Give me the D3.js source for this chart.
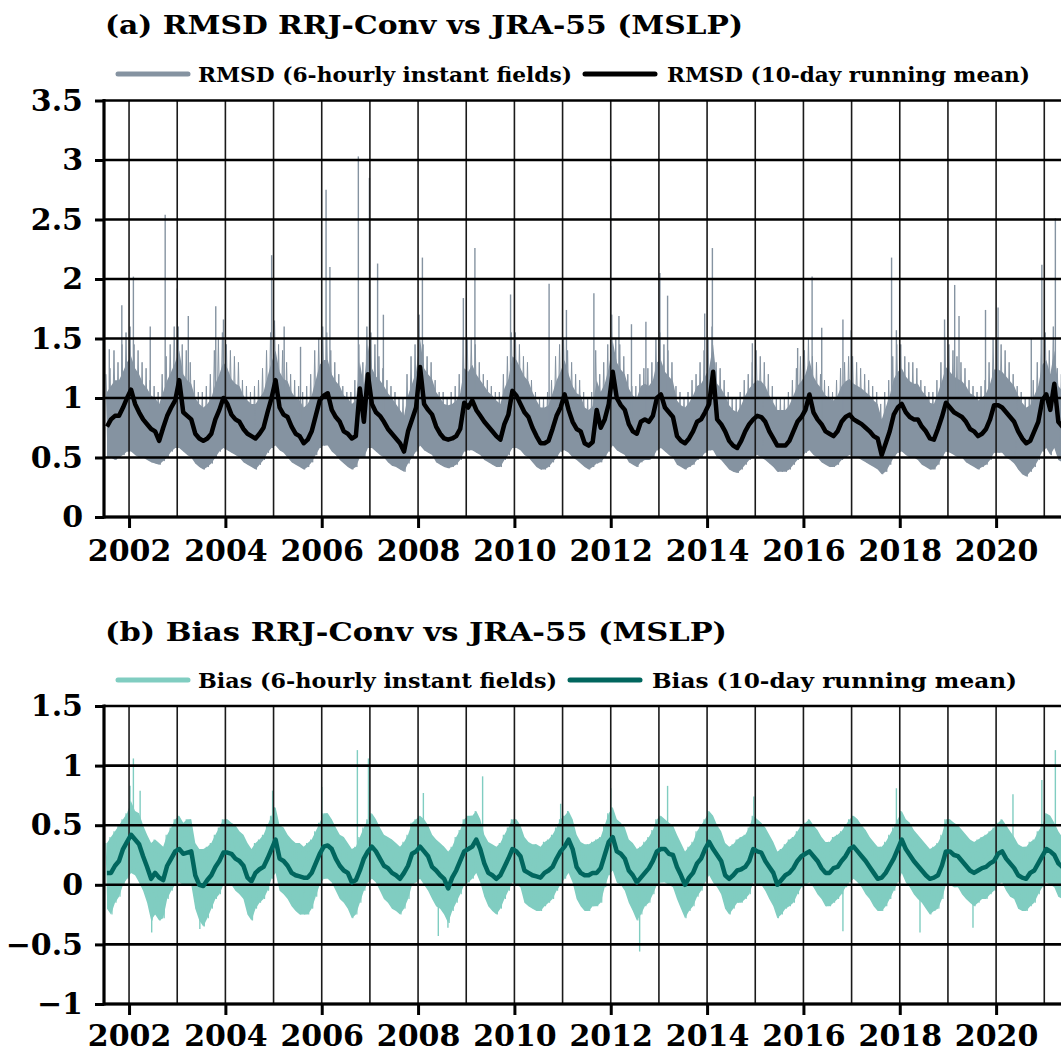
<!DOCTYPE html>
<html lang="en">
<head>
<meta charset="utf-8">
<script src="https://d3js.org/d3.v7.min.js"></script>
<style>
	body { margin:0; overflow:hidden; background:#fff; }
	text { font-family:"DejaVu Serif", serif; font-weight:bold; }
</style>
</head>
<body>
<script>

//Monthly values, first month = Jul 2001 (one row per year)
var startYear = 2001.5;

//(a) RMSD, 10-day running mean
var rmsdMean = [
	0.76, 0.82, 0.85, 0.85, 0.92, 1.00,
	1.07, 0.95, 0.88, 0.82, 0.78, 0.74, 0.72, 0.64, 0.75, 0.85, 0.92, 0.98,
	1.15, 0.88, 0.85, 0.82, 0.70, 0.66, 0.64, 0.66, 0.70, 0.82, 0.90, 1.00,
	0.95, 0.86, 0.82, 0.80, 0.74, 0.70, 0.68, 0.66, 0.70, 0.75, 0.88, 1.00,
	1.15, 0.92, 0.86, 0.84, 0.76, 0.70, 0.68, 0.62, 0.65, 0.72, 0.85, 0.98,
	1.02, 1.04, 0.90, 0.84, 0.80, 0.72, 0.70, 0.66, 0.68, 1.08, 0.80, 1.20,
	0.95, 0.88, 0.85, 0.80, 0.74, 0.70, 0.66, 0.62, 0.55, 0.72, 0.82, 0.92,
	1.26, 0.95, 0.90, 0.86, 0.76, 0.70, 0.66, 0.65, 0.66, 0.68, 0.74, 0.96,
	0.92, 0.98, 0.90, 0.85, 0.80, 0.76, 0.72, 0.68, 0.65, 0.78, 0.86, 1.06,
	1.02, 0.95, 0.88, 0.84, 0.75, 0.68, 0.62, 0.62, 0.64, 0.74, 0.85, 0.92,
	1.03, 0.90, 0.80, 0.74, 0.72, 0.62, 0.60, 0.63, 0.90, 0.75, 0.82, 0.95,
	1.22, 1.00, 0.94, 0.90, 0.78, 0.72, 0.70, 0.80, 0.82, 0.80, 0.85, 1.00,
	1.03, 0.92, 0.88, 0.84, 0.68, 0.64, 0.62, 0.66, 0.72, 0.80, 0.82, 0.88,
	0.95, 1.22, 0.82, 0.78, 0.72, 0.64, 0.60, 0.58, 0.64, 0.72, 0.78, 0.82,
	0.85, 0.84, 0.80, 0.72, 0.66, 0.60, 0.60, 0.60, 0.64, 0.72, 0.80, 0.84,
	0.90, 1.03, 0.88, 0.82, 0.78, 0.72, 0.70, 0.68, 0.72, 0.80, 0.84, 0.86,
	0.82, 0.80, 0.78, 0.75, 0.72, 0.68, 0.66, 0.52, 0.62, 0.72, 0.86, 0.92,
	0.95, 0.88, 0.84, 0.82, 0.82, 0.76, 0.72, 0.66, 0.65, 0.74, 0.84, 0.96,
	0.92, 0.88, 0.86, 0.84, 0.80, 0.74, 0.72, 0.68, 0.70, 0.74, 0.82, 0.94,
	0.94, 0.92, 0.88, 0.84, 0.80, 0.72, 0.66, 0.62, 0.64, 0.72, 0.80, 0.98,
	1.03, 0.90, 1.12, 0.80, 0.76, 0.72, 0.74, 0.70, 0.72
];

//(a) RMSD, 6-hourly fields: monthly top of the dense part of the band
var rmsdCore = [
	1.05, 1.10, 1.15, 1.15, 1.22, 1.30,
	1.35, 1.25, 1.20, 1.12, 1.08, 1.02, 1.00, 0.95, 1.05, 1.15, 1.22, 1.30,
	1.40, 1.20, 1.15, 1.12, 1.00, 0.95, 0.92, 0.95, 1.00, 1.12, 1.20, 1.30,
	1.25, 1.16, 1.12, 1.10, 1.02, 0.98, 0.95, 0.95, 1.00, 1.05, 1.18, 1.30,
	1.40, 1.22, 1.16, 1.14, 1.05, 1.00, 0.98, 0.92, 0.95, 1.02, 1.15, 1.28,
	1.32, 1.32, 1.20, 1.14, 1.10, 1.02, 1.00, 0.95, 0.98, 1.30, 1.10, 1.45,
	1.25, 1.18, 1.15, 1.10, 1.04, 1.00, 0.95, 0.90, 0.85, 1.02, 1.12, 1.22,
	1.50, 1.25, 1.20, 1.16, 1.05, 1.00, 0.95, 0.94, 0.95, 0.98, 1.04, 1.25,
	1.22, 1.28, 1.20, 1.15, 1.10, 1.05, 1.02, 0.98, 0.95, 1.08, 1.16, 1.35,
	1.32, 1.25, 1.18, 1.14, 1.05, 0.98, 0.92, 0.92, 0.94, 1.04, 1.15, 1.22,
	1.32, 1.20, 1.10, 1.04, 1.02, 0.92, 0.90, 0.93, 1.15, 1.05, 1.12, 1.25,
	1.48, 1.30, 1.24, 1.20, 1.08, 1.02, 1.00, 1.10, 1.12, 1.10, 1.15, 1.30,
	1.32, 1.22, 1.18, 1.14, 0.98, 0.94, 0.92, 0.96, 1.02, 1.10, 1.12, 1.18,
	1.25, 1.45, 1.12, 1.08, 1.02, 0.94, 0.90, 0.88, 0.94, 1.02, 1.08, 1.12,
	1.15, 1.14, 1.10, 1.02, 0.96, 0.90, 0.90, 0.90, 0.94, 1.02, 1.10, 1.14,
	1.20, 1.32, 1.18, 1.12, 1.08, 1.02, 1.00, 0.98, 1.02, 1.10, 1.14, 1.16,
	1.12, 1.10, 1.08, 1.05, 1.02, 0.98, 0.95, 0.82, 0.92, 1.02, 1.16, 1.22,
	1.25, 1.18, 1.14, 1.12, 1.12, 1.06, 1.02, 0.96, 0.95, 1.04, 1.14, 1.26,
	1.22, 1.18, 1.16, 1.14, 1.10, 1.04, 1.02, 0.98, 1.00, 1.04, 1.12, 1.24,
	1.24, 1.22, 1.18, 1.14, 1.10, 1.02, 0.96, 0.92, 0.94, 1.02, 1.10, 1.28,
	1.32, 1.20, 1.40, 1.10, 1.06, 1.02, 1.04, 1.00, 1.02
];

//(a) RMSD, 6-hourly fields: monthly upper and lower edge of the band
var rmsdHi = [
	1.20, 1.25, 1.40, 1.30, 1.45, 1.55,
	1.60, 1.45, 1.40, 1.30, 1.25, 1.15, 1.10, 1.05, 1.20, 1.35, 1.45, 1.60,
	1.60, 1.45, 1.40, 1.30, 1.15, 1.05, 1.05, 1.10, 1.20, 1.40, 1.50, 1.55,
	1.45, 1.40, 1.35, 1.30, 1.15, 1.10, 1.05, 1.10, 1.15, 1.25, 1.40, 1.55,
	1.65, 1.45, 1.40, 1.30, 1.20, 1.15, 1.10, 1.05, 1.10, 1.20, 1.40, 1.50,
	1.60, 1.55, 1.40, 1.30, 1.20, 1.10, 1.05, 1.05, 1.15, 1.45, 1.30, 1.60,
	1.55, 1.45, 1.35, 1.25, 1.15, 1.10, 1.05, 1.00, 1.00, 1.20, 1.35, 1.45,
	1.70, 1.45, 1.35, 1.30, 1.15, 1.05, 1.05, 1.00, 1.05, 1.10, 1.20, 1.50,
	1.50, 1.50, 1.45, 1.30, 1.20, 1.15, 1.10, 1.05, 1.05, 1.20, 1.35, 1.55,
	1.55, 1.45, 1.35, 1.30, 1.15, 1.05, 1.00, 1.00, 1.05, 1.15, 1.35, 1.45,
	1.50, 1.40, 1.30, 1.20, 1.15, 1.05, 1.00, 1.05, 1.40, 1.20, 1.30, 1.45,
	1.70, 1.50, 1.45, 1.35, 1.20, 1.10, 1.10, 1.20, 1.25, 1.25, 1.30, 1.50,
	1.55, 1.45, 1.40, 1.30, 1.10, 1.05, 1.00, 1.05, 1.15, 1.20, 1.30, 1.40,
	1.50, 1.60, 1.30, 1.25, 1.15, 1.05, 1.00, 1.00, 1.05, 1.15, 1.20, 1.30,
	1.40, 1.35, 1.30, 1.20, 1.10, 1.00, 1.00, 1.00, 1.05, 1.15, 1.25, 1.35,
	1.40, 1.50, 1.35, 1.30, 1.20, 1.15, 1.10, 1.05, 1.15, 1.25, 1.30, 1.35,
	1.35, 1.30, 1.25, 1.20, 1.15, 1.10, 1.05, 0.95, 1.05, 1.15, 1.35, 1.45,
	1.45, 1.35, 1.30, 1.30, 1.25, 1.15, 1.10, 1.05, 1.05, 1.15, 1.30, 1.50,
	1.45, 1.40, 1.35, 1.30, 1.25, 1.15, 1.10, 1.05, 1.10, 1.15, 1.30, 1.50,
	1.50, 1.45, 1.40, 1.30, 1.20, 1.10, 1.05, 1.00, 1.00, 1.15, 1.30, 1.50,
	1.55, 1.40, 1.60, 1.25, 1.20, 1.15, 1.15, 1.10, 1.10
];
var rmsdLo = [
	0.50, 0.50, 0.48, 0.50, 0.52, 0.55,
	0.55, 0.52, 0.50, 0.50, 0.48, 0.46, 0.45, 0.44, 0.47, 0.50, 0.55, 0.58,
	0.58, 0.55, 0.52, 0.50, 0.45, 0.42, 0.40, 0.42, 0.45, 0.50, 0.55, 0.58,
	0.56, 0.54, 0.52, 0.50, 0.46, 0.44, 0.42, 0.40, 0.44, 0.48, 0.54, 0.58,
	0.60, 0.56, 0.54, 0.50, 0.46, 0.44, 0.42, 0.40, 0.42, 0.46, 0.52, 0.58,
	0.60, 0.60, 0.55, 0.52, 0.48, 0.45, 0.42, 0.40, 0.42, 0.50, 0.50, 0.58,
	0.58, 0.55, 0.52, 0.50, 0.46, 0.43, 0.42, 0.40, 0.38, 0.45, 0.50, 0.55,
	0.60, 0.56, 0.54, 0.52, 0.46, 0.44, 0.42, 0.41, 0.42, 0.44, 0.48, 0.55,
	0.56, 0.56, 0.54, 0.52, 0.48, 0.46, 0.44, 0.42, 0.42, 0.48, 0.52, 0.58,
	0.58, 0.56, 0.52, 0.50, 0.46, 0.42, 0.40, 0.40, 0.42, 0.46, 0.50, 0.55,
	0.56, 0.54, 0.50, 0.48, 0.45, 0.42, 0.40, 0.42, 0.45, 0.46, 0.50, 0.55,
	0.60, 0.56, 0.54, 0.52, 0.46, 0.44, 0.42, 0.46, 0.48, 0.48, 0.50, 0.56,
	0.58, 0.55, 0.52, 0.50, 0.44, 0.42, 0.40, 0.42, 0.44, 0.48, 0.50, 0.54,
	0.56, 0.56, 0.50, 0.48, 0.44, 0.40, 0.38, 0.37, 0.40, 0.44, 0.48, 0.50,
	0.52, 0.50, 0.48, 0.45, 0.42, 0.38, 0.38, 0.38, 0.40, 0.44, 0.48, 0.50,
	0.54, 0.56, 0.52, 0.50, 0.46, 0.44, 0.42, 0.42, 0.44, 0.48, 0.50, 0.52,
	0.50, 0.50, 0.48, 0.46, 0.44, 0.42, 0.40, 0.36, 0.38, 0.44, 0.50, 0.54,
	0.55, 0.52, 0.50, 0.50, 0.48, 0.44, 0.42, 0.40, 0.40, 0.44, 0.50, 0.55,
	0.54, 0.52, 0.50, 0.50, 0.46, 0.44, 0.42, 0.40, 0.42, 0.44, 0.48, 0.54,
	0.54, 0.54, 0.50, 0.48, 0.45, 0.40, 0.36, 0.34, 0.38, 0.42, 0.48, 0.55,
	0.58, 0.52, 0.58, 0.48, 0.46, 0.44, 0.44, 0.42, 0.42
];

//(a) single 6-hourly peaks: [decimal year, value]
var rmsdSpikes = [
	[2001.59, 1.41], [2001.85, 1.78], [2002.09, 2.02], [2002.44, 1.60], [2002.75, 2.54],
	[2003.00, 1.92], [2003.23, 1.69], [2003.80, 1.77], [2003.96, 1.66], [2004.96, 2.20],
	[2005.22, 1.60], [2005.56, 1.43], [2006.09, 2.75], [2006.17, 2.10], [2006.76, 3.03],
	[2006.99, 2.85], [2007.16, 2.13], [2007.28, 1.70], [2008.09, 2.18], [2008.94, 1.84],
	[2009.18, 2.26], [2009.92, 1.87], [2010.72, 1.96], [2011.08, 1.74], [2011.65, 1.88],
	[2012.00, 2.95], [2012.17, 1.69], [2012.43, 1.62], [2012.73, 1.64], [2013.02, 2.05],
	[2013.18, 1.86], [2013.95, 1.71], [2014.11, 2.26], [2014.94, 1.46], [2015.88, 1.42],
	[2016.18, 2.02], [2016.38, 1.59], [2016.82, 1.66], [2016.99, 1.57], [2017.83, 2.18],
	[2017.93, 1.57], [2018.93, 1.66], [2019.14, 1.95], [2019.23, 1.69], [2019.78, 1.74],
	[2020.04, 1.76], [2020.73, 1.50], [2020.95, 2.12], [2021.23, 2.51]
];

//(b) Bias, 10-day running mean
var biasMean = [
	0.10, 0.10, 0.16, 0.20, 0.30, 0.36,
	0.42, 0.38, 0.34, 0.24, 0.15, 0.05, 0.10, 0.06, 0.04, 0.16, 0.22, 0.28,
	0.30, 0.26, 0.27, 0.28, 0.08, 0.00, -0.01, 0.04, 0.08, 0.15, 0.20, 0.27,
	0.27, 0.26, 0.22, 0.20, 0.16, 0.06, 0.03, 0.10, 0.13, 0.15, 0.22, 0.30,
	0.38, 0.22, 0.20, 0.16, 0.10, 0.08, 0.07, 0.06, 0.06, 0.10, 0.18, 0.26,
	0.32, 0.33, 0.30, 0.22, 0.16, 0.12, 0.10, 0.02, 0.04, 0.12, 0.22, 0.28,
	0.32, 0.28, 0.22, 0.16, 0.14, 0.10, 0.08, 0.05, 0.10, 0.16, 0.26, 0.28,
	0.32, 0.28, 0.24, 0.15, 0.12, 0.08, 0.05, -0.03, 0.06, 0.12, 0.20, 0.28,
	0.30, 0.32, 0.38, 0.30, 0.18, 0.10, 0.08, 0.05, 0.08, 0.15, 0.22, 0.30,
	0.28, 0.24, 0.12, 0.10, 0.08, 0.07, 0.06, 0.10, 0.12, 0.15, 0.22, 0.28,
	0.32, 0.38, 0.30, 0.15, 0.10, 0.08, 0.08, 0.10, 0.10, 0.14, 0.25, 0.36,
	0.40, 0.28, 0.26, 0.22, 0.12, 0.08, 0.02, 0.06, 0.10, 0.14, 0.20, 0.28,
	0.30, 0.30, 0.26, 0.25, 0.15, 0.08, 0.00, 0.06, 0.10, 0.18, 0.22, 0.30,
	0.36, 0.30, 0.25, 0.20, 0.08, 0.05, 0.08, 0.12, 0.13, 0.15, 0.20, 0.30,
	0.28, 0.27, 0.20, 0.15, 0.10, 0.00, 0.04, 0.08, 0.10, 0.14, 0.20, 0.24,
	0.26, 0.28, 0.24, 0.20, 0.14, 0.10, 0.10, 0.14, 0.15, 0.20, 0.24, 0.30,
	0.32, 0.28, 0.24, 0.20, 0.15, 0.10, 0.05, 0.06, 0.10, 0.16, 0.22, 0.30,
	0.38, 0.30, 0.25, 0.20, 0.16, 0.12, 0.08, 0.05, 0.06, 0.08, 0.16, 0.28,
	0.28, 0.25, 0.24, 0.20, 0.16, 0.12, 0.10, 0.12, 0.14, 0.15, 0.18, 0.20,
	0.26, 0.28, 0.22, 0.18, 0.14, 0.08, 0.06, 0.05, 0.10, 0.12, 0.18, 0.24,
	0.30, 0.28, 0.25, 0.18, 0.15, 0.10, 0.12, 0.10, 0.14
];

//(b) Bias, 6-hourly fields: monthly upper and lower edge of the band
var biasHi = [
	0.35, 0.40, 0.45, 0.50, 0.55, 0.60,
	0.70, 0.62, 0.60, 0.50, 0.42, 0.35, 0.38, 0.35, 0.32, 0.42, 0.48, 0.55,
	0.58, 0.52, 0.55, 0.55, 0.35, 0.30, 0.30, 0.32, 0.35, 0.42, 0.48, 0.55,
	0.55, 0.52, 0.50, 0.45, 0.42, 0.35, 0.30, 0.35, 0.38, 0.42, 0.50, 0.58,
	0.65, 0.50, 0.48, 0.42, 0.38, 0.35, 0.35, 0.32, 0.35, 0.38, 0.45, 0.52,
	0.60, 0.60, 0.55, 0.48, 0.42, 0.40, 0.35, 0.30, 0.32, 0.40, 0.48, 0.55,
	0.60, 0.55, 0.48, 0.42, 0.40, 0.38, 0.35, 0.32, 0.36, 0.42, 0.52, 0.55,
	0.58, 0.55, 0.50, 0.42, 0.38, 0.35, 0.32, 0.28, 0.32, 0.40, 0.46, 0.55,
	0.58, 0.58, 0.62, 0.55, 0.42, 0.36, 0.34, 0.32, 0.35, 0.42, 0.48, 0.55,
	0.55, 0.50, 0.40, 0.36, 0.34, 0.34, 0.32, 0.36, 0.38, 0.42, 0.48, 0.55,
	0.58, 0.62, 0.55, 0.42, 0.36, 0.34, 0.34, 0.36, 0.38, 0.40, 0.50, 0.60,
	0.65, 0.55, 0.52, 0.48, 0.38, 0.35, 0.30, 0.32, 0.36, 0.40, 0.46, 0.55,
	0.58, 0.55, 0.52, 0.50, 0.42, 0.35, 0.28, 0.32, 0.36, 0.45, 0.50, 0.55,
	0.62, 0.58, 0.50, 0.45, 0.35, 0.32, 0.34, 0.38, 0.40, 0.42, 0.48, 0.58,
	0.55, 0.52, 0.48, 0.42, 0.36, 0.28, 0.30, 0.34, 0.38, 0.40, 0.45, 0.50,
	0.52, 0.55, 0.50, 0.46, 0.40, 0.36, 0.36, 0.40, 0.42, 0.45, 0.50, 0.55,
	0.58, 0.55, 0.50, 0.46, 0.40, 0.36, 0.32, 0.32, 0.36, 0.42, 0.48, 0.55,
	0.62, 0.55, 0.52, 0.46, 0.42, 0.38, 0.34, 0.30, 0.32, 0.35, 0.42, 0.55,
	0.55, 0.52, 0.50, 0.46, 0.42, 0.38, 0.36, 0.38, 0.40, 0.42, 0.45, 0.48,
	0.52, 0.55, 0.50, 0.45, 0.40, 0.34, 0.32, 0.32, 0.36, 0.38, 0.45, 0.50,
	0.60, 0.58, 0.52, 0.45, 0.40, 0.36, 0.38, 0.36, 0.40
];
var biasLo = [
	-0.20, -0.25, -0.15, -0.10, 0.00, 0.05,
	0.10, 0.08, 0.02, -0.05, -0.15, -0.30, -0.25, -0.30, -0.28, -0.12, -0.05, 0.00,
	0.02, 0.00, 0.00, 0.00, -0.20, -0.30, -0.35, -0.28, -0.20, -0.12, -0.08, 0.00,
	0.00, 0.00, -0.05, -0.08, -0.12, -0.25, -0.30, -0.20, -0.15, -0.12, -0.05, 0.05,
	0.10, -0.05, -0.08, -0.12, -0.18, -0.22, -0.25, -0.25, -0.25, -0.20, -0.10, 0.00,
	0.05, 0.05, 0.02, -0.05, -0.12, -0.15, -0.20, -0.28, -0.25, -0.15, -0.05, 0.02,
	0.05, 0.02, -0.05, -0.12, -0.15, -0.20, -0.22, -0.25, -0.20, -0.12, 0.00, 0.02,
	0.05, 0.00, -0.05, -0.12, -0.18, -0.20, -0.25, -0.32, -0.22, -0.15, -0.08, 0.00,
	0.02, 0.05, 0.10, 0.02, -0.10, -0.18, -0.22, -0.25, -0.20, -0.12, -0.05, 0.02,
	0.00, -0.02, -0.15, -0.18, -0.20, -0.22, -0.22, -0.18, -0.15, -0.12, -0.05, 0.00,
	0.05, 0.10, 0.02, -0.12, -0.18, -0.22, -0.22, -0.18, -0.18, -0.15, -0.02, 0.08,
	0.12, 0.02, 0.00, -0.05, -0.15, -0.22, -0.30, -0.25, -0.18, -0.15, -0.08, 0.00,
	0.02, 0.02, 0.00, -0.02, -0.12, -0.20, -0.28, -0.22, -0.18, -0.10, -0.05, 0.02,
	0.08, 0.02, -0.02, -0.08, -0.20, -0.25, -0.20, -0.15, -0.15, -0.12, -0.08, 0.02,
	0.00, 0.00, -0.05, -0.12, -0.18, -0.28, -0.25, -0.20, -0.18, -0.15, -0.08, -0.02,
	0.00, 0.02, -0.02, -0.08, -0.12, -0.18, -0.18, -0.15, -0.12, -0.08, -0.02, 0.02,
	0.05, 0.02, -0.02, -0.08, -0.12, -0.18, -0.22, -0.22, -0.18, -0.12, -0.05, 0.02,
	0.10, 0.02, -0.02, -0.08, -0.12, -0.15, -0.20, -0.25, -0.22, -0.20, -0.12, 0.00,
	0.00, -0.02, -0.02, -0.08, -0.12, -0.15, -0.18, -0.15, -0.12, -0.12, -0.08, -0.05,
	0.00, 0.02, -0.05, -0.10, -0.12, -0.20, -0.22, -0.22, -0.18, -0.15, -0.08, -0.02,
	0.02, 0.00, -0.02, -0.10, -0.12, -0.18, -0.15, -0.18, -0.12
];

//(b) single 6-hourly peaks (positive and negative)
var biasSpikes = [
	[2002.02, 0.83], [2002.09, 1.06], [2002.23, 0.79], [2004.98, 0.79], [2006.00, 0.82],
	[2006.74, 1.13], [2006.97, 1.06], [2008.11, 0.77], [2009.34, 0.91], [2010.96, 0.68],
	[2012.00, 0.81], [2013.18, 0.83], [2014.97, 0.74], [2017.93, 0.81], [2020.35, 0.76],
	[2020.95, 0.88], [2021.23, 1.13],
	[2002.47, -0.40], [2003.47, -0.37], [2008.42, -0.43], [2008.62, -0.36], [2012.60, -0.56],
	[2016.82, -0.39], [2018.42, -0.40], [2019.52, -0.36]
];

//Tick values
var yTicksA = [0, 0.5, 1, 1.5, 2, 2.5, 3, 3.5];
var yTicksB = [-1, -0.5, 0, 0.5, 1, 1.5];
var xTickYears = [2002, 2004, 2006, 2008, 2010, 2012, 2014, 2016, 2018, 2020];
var gridYears = d3.range(2002, 2023);

//Width and height
var w = 1061;
var h = 1053;

var xScale = d3.scaleLinear()
	.domain([2001.48, 2022.5])
	.range([104, 104 + (2022.5 - 2001.48) * 48.17]);

var svg = d3.select("body")
	.append("svg")
	.attr("width", w)
	.attr("height", h);

function monthTime(i) { return startYear + (i + 0.5) / 12; }

function drawPanel(p) {
	var g = svg.append("g");
	var y = p.yScale;
	var yTop = y(p.yTicks[p.yTicks.length - 1]);
	var yBot = y(p.yTicks[0]);
	var xEnd = w + 40;
	var core = p.core || p.hi;

	//Zigzag through the monthly band edges for the 6-hourly series
	var zig = [];
	p.hi.forEach(function(v, i) {
		zig.push([monthTime(i) - 1 / 48, v]);
		zig.push([monthTime(i) + 1 / 48, p.lo[i]]);
	});

	var line = d3.line()
		.x(function(d) { return xScale(d[0]); })
		.y(function(d) { return y(d[1]); });

	var band = d3.area()
		.x(function(d, i) { return xScale(monthTime(i)); })
		.y0(function(d, i) { return y(p.lo[i]); })
		.y1(function(d) { return y(d); });

	//6-hourly series: dense band, zigzag fringe and single peaks
	g.append("path")
		.datum(core)
		.attr("d", band)
		.attr("fill", p.lightColor);

	g.append("path")
		.datum(zig)
		.attr("d", line)
		.attr("fill", "none")
		.attr("stroke", p.lightColor)
		.attr("stroke-width", p.zigWidth);

	g.selectAll(null)
		.data(p.spikes)
		.enter()
		.append("line")
		.attr("x1", function(d) { return xScale(d[0]); })
		.attr("x2", function(d) { return xScale(d[0]); })
		.attr("y1", function(d) { return y(p.mean[Math.round((d[0] - startYear) * 12 - 0.5)]); })
		.attr("y2", function(d) { return y(d[1]); })
		.attr("stroke", p.lightColor)
		.attr("stroke-width", 1.4);

	//Grid on top of the 6-hourly band
	g.selectAll(null)
		.data(gridYears)
		.enter()
		.append("line")
		.attr("x1", function(d) { return xScale(d); })
		.attr("x2", function(d) { return xScale(d); })
		.attr("y1", yTop)
		.attr("y2", yBot)
		.attr("stroke", "#1a1a1a")
		.attr("stroke-width", 1.6);
	g.selectAll(null)
		.data(p.yTicks)
		.enter()
		.append("line")
		.attr("x1", 104)
		.attr("x2", xEnd)
		.attr("y1", function(d) { return y(d); })
		.attr("y2", function(d) { return y(d); })
		.attr("stroke", "#000")
		.attr("stroke-width", 2.6);

	//10-day running mean
	g.append("path")
		.datum(p.mean.map(function(v, i) { return [monthTime(i), v]; }))
		.attr("d", line)
		.attr("fill", "none")
		.attr("stroke", p.darkColor)
		.attr("stroke-width", 4.5)
		.attr("stroke-linejoin", "round");

	//Left axis
	var yAxis = d3.axisLeft(y)
		.tickValues(p.yTicks)
		.tickSize(9)
		.tickPadding(12)
		.tickFormat(d3.format("~g"));
	var ya = g.append("g")
		.attr("transform", "translate(104,0)")
		.call(yAxis);
	ya.select(".domain").remove();
	ya.selectAll(".tick line").attr("stroke", "#000").attr("stroke-width", 3);
	ya.selectAll(".tick text")
		.attr("font-size", "30px")
		.attr("font-family", "DejaVu Serif")
		.attr("font-weight", "bold")
		.attr("fill", "#000");

	g.append("line")
		.attr("x1", 104).attr("x2", 104)
		.attr("y1", yTop - 1.5).attr("y2", yBot + 1.5)
		.attr("stroke", "#000")
		.attr("stroke-width", 3.2);
	g.append("line")
		.attr("x1", 104).attr("x2", xEnd)
		.attr("y1", yBot).attr("y2", yBot)
		.attr("stroke", "#000")
		.attr("stroke-width", 3.2);

	//Bottom axis
	var xAxis = d3.axisBottom(xScale)
		.tickValues(xTickYears)
		.tickSize(11)
		.tickPadding(p.xPad)
		.tickFormat(d3.format("d"));
	var xa = g.append("g")
		.attr("transform", "translate(0," + yBot + ")")
		.call(xAxis);
	xa.select(".domain").remove();
	xa.selectAll(".tick line").attr("stroke", "#000").attr("stroke-width", 3);
	xa.selectAll(".tick text")
		.attr("font-size", "30px")
		.attr("font-family", "DejaVu Serif")
		.attr("font-weight", "bold")
		.attr("fill", "#000");

	//Title
	svg.append("text")
		.attr("x", 105)
		.attr("y", p.titleY)
		.attr("font-size", "26px")
		.attr("textLength", p.titleLen)
		.attr("lengthAdjust", "spacingAndGlyphs")
		.text(p.title);

	//Legend
	var ly = p.legendY;
	svg.append("line")
		.attr("x1", 118).attr("x2", 188)
		.attr("y1", ly).attr("y2", ly)
		.attr("stroke", p.lightColor)
		.attr("stroke-width", 5)
		.attr("stroke-linecap", "round");
	svg.append("text")
		.attr("x", 198).attr("y", ly + 8)
		.attr("font-size", "21px")
		.attr("textLength", p.leg1Len)
		.attr("lengthAdjust", "spacingAndGlyphs")
		.text(p.leg1);
	svg.append("line")
		.attr("x1", p.leg2X).attr("x2", p.leg2X + 70)
		.attr("y1", ly).attr("y2", ly)
		.attr("stroke", p.darkColor)
		.attr("stroke-width", 5)
		.attr("stroke-linecap", "round");
	svg.append("text")
		.attr("x", p.leg2X + 82).attr("y", ly + 8)
		.attr("font-size", "21px")
		.attr("textLength", p.leg2Len)
		.attr("lengthAdjust", "spacingAndGlyphs")
		.text(p.leg2);
}

drawPanel({
	yScale: d3.scaleLinear().domain([0, 3.5]).range([517, 100.5]),
	yTicks: yTicksA,
	hi: rmsdHi, lo: rmsdLo, core: rmsdCore, mean: rmsdMean, spikes: rmsdSpikes,
	lightColor: "#8593a1", darkColor: "#000",
	zigWidth: 1, xPad: 12,
	title: "(a) RMSD RRJ-Conv vs JRA-55 (MSLP)", titleY: 34, titleLen: 638,
	legendY: 74,
	leg1: "RMSD (6-hourly instant fields)", leg1Len: 374,
	leg2: "RMSD (10-day running mean)", leg2X: 585, leg2Len: 363
});

drawPanel({
	yScale: d3.scaleLinear().domain([-1, 1.5]).range([1004, 706]),
	yTicks: yTicksB,
	hi: biasHi, lo: biasLo, mean: biasMean, spikes: biasSpikes,
	lightColor: "#80cdc1", darkColor: "#01665e",
	zigWidth: 1.2, xPad: 10,
	title: "(b) Bias RRJ-Conv vs JRA-55 (MSLP)", titleY: 641, titleLen: 622,
	legendY: 680,
	leg1: "Bias (6-hourly instant fields)", leg1Len: 359,
	leg2: "Bias (10-day running mean)", leg2X: 570, leg2Len: 365
});

</script>
</body>
</html>
